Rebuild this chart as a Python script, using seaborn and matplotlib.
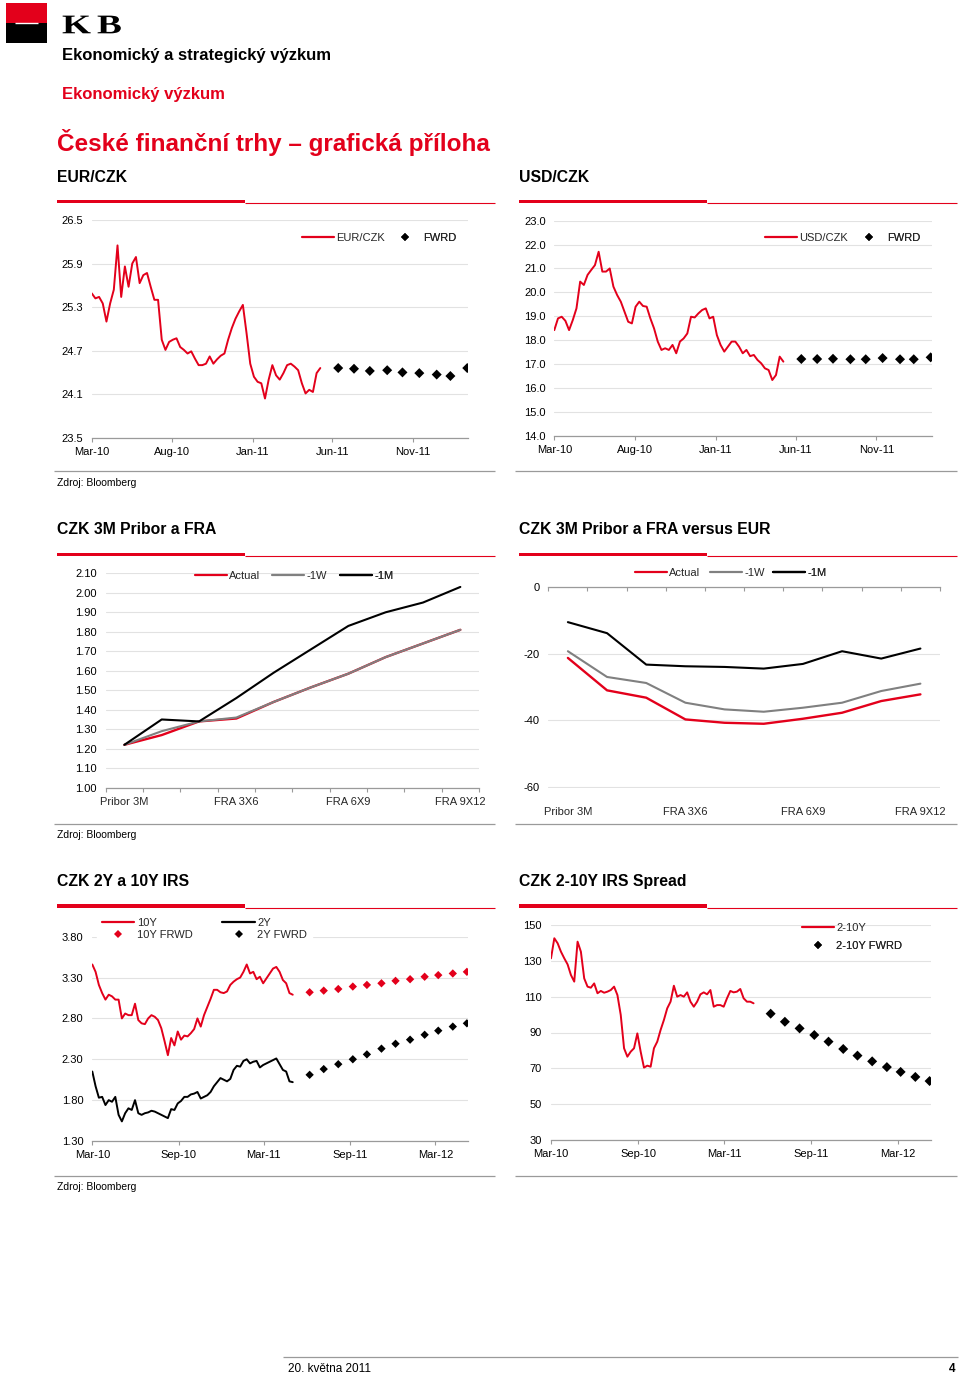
import numpy as np
import pandas as pd
import matplotlib
matplotlib.use('Agg')
import matplotlib.pyplot as plt
import matplotlib.dates as mdates
from matplotlib.lines import Line2D
from matplotlib.patches import Rectangle, PathPatch
from matplotlib.textpath import TextPath
from matplotlib.font_manager import FontProperties
from matplotlib.transforms import Affine2D
import seaborn as sns

# ---------------- data ----------------
fx_start = '2010-03-01'
eur_czk = [25.49, 25.42, 25.44, 25.35, 25.10, 25.35, 25.54, 26.15, 25.44, 25.86,
           25.58, 25.90, 25.99, 25.63, 25.74, 25.77, 25.58, 25.40, 25.40, 24.85,
           24.71, 24.82, 24.85, 24.87, 24.75, 24.71, 24.66, 24.69, 24.59, 24.50,
           24.50, 24.52, 24.62, 24.52, 24.58, 24.63, 24.66, 24.85, 25.01, 25.14,
           25.24, 25.33, 24.94, 24.52, 24.34, 24.27, 24.25, 24.04, 24.30, 24.50,
           24.36, 24.30, 24.39, 24.50, 24.52, 24.48, 24.43, 24.25, 24.11, 24.16,
           24.13, 24.39, 24.46]
usd_czk = [18.42, 18.91, 18.98, 18.81, 18.42, 18.84, 19.33, 20.45, 20.31, 20.73,
           20.94, 21.14, 21.70, 20.87, 20.87, 21.00, 20.24, 19.89, 19.61, 19.19,
           18.77, 18.70, 19.40, 19.61, 19.43, 19.40, 18.91, 18.49, 17.94, 17.59,
           17.66, 17.59, 17.80, 17.45, 17.94, 18.07, 18.28, 18.98, 18.95, 19.12,
           19.26, 19.33, 18.91, 18.98, 18.21, 17.80, 17.52, 17.73, 17.94, 17.94,
           17.73, 17.45, 17.59, 17.33, 17.38, 17.17, 17.03, 16.82, 16.75, 16.33,
           16.54, 17.31, 17.10]
fx_fwd_dates = ['2011-06-12', '2011-07-12', '2011-08-11', '2011-09-13', '2011-10-12',
                '2011-11-13', '2011-12-16', '2012-01-11', '2012-02-12']
eur_fwd = [24.46, 24.45, 24.42, 24.43, 24.40, 24.39, 24.37, 24.35, 24.46]
usd_fwd = [17.21, 17.21, 17.22, 17.20, 17.20, 17.25, 17.20, 17.20, 17.28]
fx_xticks = ['2010-03-01', '2010-08-01', '2011-01-01', '2011-06-01', '2011-11-01']

fra_labels = ['Pribor 3M', 'FRA 1X4', 'FRA 2X5', 'FRA 3X6', 'FRA 4X7',
              'FRA 5X8', 'FRA 6X9', 'FRA 7X10', 'FRA 8X11', 'FRA 9X12']
fra_actual = [1.22, 1.27, 1.34, 1.355, 1.44, 1.515, 1.585, 1.67, 1.74, 1.81]
fra_1w = [1.22, 1.29, 1.34, 1.36, 1.44, 1.515, 1.585, 1.67, 1.74, 1.81]
fra_1m = [1.22, 1.35, 1.34, 1.46, 1.59, 1.71, 1.83, 1.90, 1.95, 2.03]

vs_eur_actual = [-21.3, -31.0, -33.2, -39.7, -40.7, -41.0, -39.5, -37.7, -34.2, -32.2]
vs_eur_1w = [-19.3, -27.0, -28.8, -34.7, -36.7, -37.4, -36.2, -34.7, -31.2, -29.0]
vs_eur_1m = [-10.6, -13.9, -23.3, -23.8, -24.0, -24.5, -23.1, -19.3, -21.5, -18.5]

irs_start = '2010-03-01'
irs_10y = [3.46, 3.37, 3.21, 3.11, 3.03, 3.09, 3.07, 3.03, 3.03, 2.80,
           2.86, 2.84, 2.84, 2.98, 2.78, 2.74, 2.73, 2.80, 2.84, 2.82,
           2.78, 2.68, 2.52, 2.35, 2.56, 2.47, 2.64, 2.54, 2.59, 2.58,
           2.62, 2.67, 2.80, 2.70, 2.84, 2.94, 3.04, 3.15, 3.15, 3.12,
           3.11, 3.13, 3.21, 3.25, 3.28, 3.30, 3.37, 3.46, 3.35, 3.37,
           3.28, 3.31, 3.23, 3.29, 3.35, 3.41, 3.43, 3.37, 3.27, 3.23,
           3.11, 3.09]
irs_2y = [2.15, 1.97, 1.83, 1.84, 1.74, 1.80, 1.78, 1.84, 1.62, 1.54,
          1.64, 1.70, 1.68, 1.80, 1.64, 1.62, 1.64, 1.65, 1.67, 1.66,
          1.64, 1.62, 1.60, 1.58, 1.69, 1.68, 1.76, 1.79, 1.84, 1.84,
          1.87, 1.88, 1.90, 1.82, 1.84, 1.86, 1.90, 1.97, 2.02, 2.07,
          2.05, 2.03, 2.06, 2.17, 2.22, 2.21, 2.28, 2.30, 2.25, 2.27,
          2.28, 2.20, 2.23, 2.25, 2.27, 2.29, 2.31, 2.24, 2.17, 2.15,
          2.03, 2.02]
irs_spread = [131.4, 142.6, 139.8, 135.1, 131.4, 128.0, 122.1, 118.4, 140.7, 135.1,
              120.2, 115.6, 115.0, 117.4, 111.9, 113.2, 112.2, 112.8, 113.7, 115.6,
              110.9, 99.8, 81.2, 76.5, 79.3, 81.2, 89.5, 79.3, 70.4, 71.5,
              70.9, 81.2, 84.9, 91.4, 97.0, 103.5, 107.2, 116.1, 110.0, 110.9,
              110.0, 112.4, 107.2, 104.4, 107.2, 111.3, 112.4, 111.3, 113.7, 104.4,
              105.3, 105.3, 104.4, 109.1, 113.2, 112.4, 112.8, 114.3, 109.1, 107.2,
              107.2, 106.3]
irs_fwd_dates = ['2011-06-07', '2011-07-07', '2011-08-07', '2011-09-07', '2011-10-07',
                 '2011-11-07', '2011-12-07', '2012-01-07', '2012-02-07', '2012-03-07',
                 '2012-04-07', '2012-05-07']
irs_10y_fwd = [3.12, 3.14, 3.16, 3.19, 3.21, 3.23, 3.26, 3.28, 3.31, 3.33, 3.35, 3.37]
irs_2y_fwd = [2.11, 2.18, 2.24, 2.30, 2.36, 2.43, 2.49, 2.54, 2.60, 2.65, 2.70, 2.74]
irs_spread_fwd = [100.5, 96.0, 92.3, 88.6, 84.9, 80.8, 77.1, 73.9, 70.7, 68.0, 65.2, 62.9]
irs_xticks = ['2010-03-01', '2010-09-01', '2011-03-01', '2011-09-01', '2012-03-01']

# ---------------- style ----------------
W, H = 960, 1375
RED = '#e3001b'
GREY_LINE = '#808080'
GRID = '#e2e2e2'
AXC = '#9a9a9a'

sns.set_theme(style='white')
plt.rcParams['font.family'] = ['Liberation Sans', 'DejaVu Sans']

fig = plt.figure(figsize=(W / 100, H / 100), dpi=100)
fig.patch.set_facecolor('white')


def fxp(x):
    return x / W


def fyp(y):
    return 1 - y / H


def add_ax(x0, y0, x1, y1):
    return fig.add_axes([fxp(x0), fyp(y1), (x1 - x0) / W, (y1 - y0) / H])


def ftext(x, y, s, **kw):
    kw.setdefault('va', 'baseline')
    fig.text(fxp(x), fyp(y), s, **kw)


def hline(x0, x1, y, color, lw):
    fig.add_artist(Line2D([fxp(x0), fxp(x1)], [fyp(y), fyp(y)], transform=fig.transFigure,
                          color=color, lw=lw, solid_capstyle='butt'))


def rect(x0, y0, x1, y1, color):
    fig.add_artist(Rectangle((fxp(x0), fyp(y1)), (x1 - x0) / W, (y1 - y0) / H,
                             transform=fig.transFigure, color=color, lw=0))


def logo_letter(ch, x, y, size, stretch):
    tp = TextPath((0, 0), ch, size=size,
                  prop=FontProperties(family='Liberation Serif', weight='bold'))
    tr = Affine2D().scale(stretch / W, 1 / H).translate(fxp(x), fyp(y)) + fig.transFigure
    fig.add_artist(PathPatch(tp, transform=tr, color='black', lw=0))


def style_y(ax, ticks, fmt, pad):
    ax.set_ylim(ticks[0], ticks[-1])
    ax.set_yticks(ticks)
    ax.set_yticklabels([fmt.format(v) for v in ticks])
    ax.grid(True, axis='y', color=GRID, lw=0.8)
    ax.grid(False, axis='x')
    ax.set_axisbelow(True)
    ax.tick_params(axis='y', left=False, length=0, pad=pad, labelsize=8, labelcolor='black')
    for s in ('top', 'right', 'left'):
        ax.spines[s].set_visible(False)
    ax.spines['bottom'].set_color(AXC)
    ax.spines['bottom'].set_linewidth(0.9)
    ax.set_xlabel('')
    ax.set_ylabel('')
    ax.set_facecolor('white')


def style_time(ax, xlim, xticks):
    ax.set_xlim(pd.Timestamp(xlim[0]), pd.Timestamp(xlim[1]))
    ax.set_xticks(pd.to_datetime(xticks))
    ax.xaxis.set_major_formatter(mdates.DateFormatter('%b-%y'))
    ax.minorticks_off()
    ax.tick_params(axis='x', bottom=True, length=3, width=0.8, color=AXC, pad=3.7,
                   labelsize=8, labelcolor='black', direction='out')


def entry(ax, handle, label, x, y, hl=2.9):
    lg = ax.legend([handle], [label], loc='center left', bbox_to_anchor=(fxp(x), fyp(y)),
                   bbox_transform=fig.transFigure, frameon=False, fontsize=8,
                   handlelength=hl, handletextpad=0.2, borderpad=0, borderaxespad=0)
    ax.add_artist(lg)


red_line = Line2D([], [], color=RED, lw=1.6)
grey_line = Line2D([], [], color=GREY_LINE, lw=1.6)
black_line = Line2D([], [], color='black', lw=1.6)
black_dia = Line2D([], [], ls='none', marker='D', color='black', markersize=4.2, markeredgewidth=0)
red_dia = Line2D([], [], ls='none', marker='D', color=RED, markersize=3.6, markeredgewidth=0)

# ---------------- page furniture ----------------
rect(6, 3, 47, 23, RED)
rect(6, 23, 47, 43, 'black')
hline(15, 38, 23.3, 'white', 1.0)
logo_letter('K', 62, 33.3, 27, 1.38)
logo_letter('B', 97, 33.3, 27, 1.38)
ftext(62, 60, 'Ekonomický a strategický výzkum', fontsize=12, fontweight='bold', color='black')
ftext(62, 99, 'Ekonomický výzkum', fontsize=12, fontweight='bold', color=RED)
ftext(57, 151, 'České finanční trhy – grafická příloha', fontsize=17.5, fontweight='bold', color=RED)

headers = [(57, 182.3, 'EUR/CZK'), (519, 182.3, 'USD/CZK'),
           (57, 534, 'CZK 3M Pribor a FRA'), (519, 534, 'CZK 3M Pribor a FRA versus EUR'),
           (57, 886, 'CZK 2Y a 10Y IRS'), (519, 886, 'CZK 2-10Y IRS Spread')]
for x, y, s in headers:
    ftext(x, y, s, fontsize=11.3, fontweight='bold', color='black')

for ytop in (200, 553, 904.5):
    rect(57, ytop, 245, ytop + 3.4, RED)
    hline(245, 495, ytop + 3.0, RED, 0.8)
    rect(519, ytop, 707, ytop + 3.4, RED)
    hline(707, 957, ytop + 3.0, RED, 0.8)

for yl, ys in ((471, 485.7), (824, 838), (1176, 1190)):
    hline(54, 495, yl, AXC, 0.9)
    hline(515, 957, yl, AXC, 0.9)
    ftext(57, ys, 'Zdroj: Bloomberg', fontsize=7.5, color='black')

hline(283, 958, 1357, AXC, 0.9)
ftext(288, 1372, '20. května 2011', fontsize=8.5, color='black')
ftext(955, 1372, '4', fontsize=8.5, fontweight='bold', color='black', ha='right')

# ---------------- chart 1: EUR/CZK ----------------
ax1 = add_ax(91.7, 220, 468.3, 437.7)
sns.lineplot(x=pd.date_range(fx_start, periods=len(eur_czk), freq='7D'), y=eur_czk,
             ax=ax1, color=RED, lw=1.4)
sns.scatterplot(x=pd.to_datetime(fx_fwd_dates), y=eur_fwd, ax=ax1, marker='D',
                color='black', s=26, edgecolor='none')
style_y(ax1, np.round(np.arange(23.5, 26.51, 0.6), 1), '{:.1f}', 6)
style_time(ax1, ('2010-03-01', '2012-02-14'), fx_xticks)
entry(ax1, red_line, 'EUR/CZK', 302, 237.7)
entry(ax1, black_dia, 'FWRD', 389, 237.7)

# ---------------- chart 2: USD/CZK ----------------
ax2 = add_ax(554.3, 220.7, 931.7, 435.7)
sns.lineplot(x=pd.date_range(fx_start, periods=len(usd_czk), freq='7D'), y=usd_czk,
             ax=ax2, color=RED, lw=1.4)
sns.scatterplot(x=pd.to_datetime(fx_fwd_dates), y=usd_fwd, ax=ax2, marker='D',
                color='black', s=26, edgecolor='none')
style_y(ax2, np.arange(14, 23.1, 1.0), '{:.1f}', 6)
style_time(ax2, ('2010-03-01', '2012-02-14'), fx_xticks)
entry(ax2, red_line, 'USD/CZK', 765, 237.7)
entry(ax2, black_dia, 'FWRD', 852.5, 237.7)

# ---------------- chart 3: Pribor & FRA ----------------
pos = np.arange(len(fra_labels))
ax3 = add_ax(105.7, 573.3, 479, 787.7)
sns.lineplot(x=pos, y=fra_actual, ax=ax3, color=RED, lw=1.7)
sns.lineplot(x=pos, y=fra_1w, ax=ax3, color=GREY_LINE, lw=1.5)
sns.lineplot(x=pos, y=fra_1m, ax=ax3, color='black', lw=1.5)
style_y(ax3, np.round(np.arange(1.0, 2.101, 0.1), 2), '{:.2f}', 6.5)
ax3.set_xlim(-0.5, len(fra_labels) - 0.5)
ax3.set_xticks(pos[::3])
ax3.set_xticklabels(fra_labels[::3])
ax3.set_xticks(np.arange(-0.5, len(fra_labels)), minor=True)
ax3.tick_params(axis='x', which='major', bottom=True, length=0, pad=6.7, labelsize=8)
ax3.tick_params(axis='x', which='minor', bottom=True, length=3, width=0.8, color=AXC,
                direction='out')
entry(ax3, red_line, 'Actual', 195, 575.7)
entry(ax3, grey_line, '-1W', 271.7, 575.7)
entry(ax3, black_line, '-1M', 340, 575.7)

# ---------------- chart 4: versus EUR ----------------
ax4 = add_ax(548.3, 586.7, 940, 788.3)
sns.lineplot(x=pos, y=vs_eur_actual, ax=ax4, color=RED, lw=1.7)
sns.lineplot(x=pos, y=vs_eur_1w, ax=ax4, color=GREY_LINE, lw=1.5)
sns.lineplot(x=pos, y=vs_eur_1m, ax=ax4, color='black', lw=1.5)
style_y(ax4, np.arange(-60, 1, 20), '{:.0f}', 6)
ax4.set_ylim(-60.3, 0)
ax4.spines['bottom'].set_visible(False)
ax4.spines['top'].set_visible(True)
ax4.spines['top'].set_color(AXC)
ax4.spines['top'].set_linewidth(0.9)
ax4.set_xlim(-0.5, len(fra_labels) - 0.5)
ax4.set_xticks(pos[::3])
ax4.set_xticklabels(fra_labels[::3])
ax4.set_xticks(np.arange(-0.5, len(fra_labels)), minor=True)
ax4.tick_params(axis='x', which='major', bottom=False, top=False, labelbottom=True,
                pad=7.2, labelsize=8)
ax4.tick_params(axis='x', which='minor', bottom=False, top=True, length=3, width=0.8,
                color=AXC, direction='in')
entry(ax4, red_line, 'Actual', 635, 573.3)
entry(ax4, grey_line, '-1W', 710, 573.3)
entry(ax4, black_line, '-1M', 773, 573.3)

# ---------------- chart 5: 2Y & 10Y IRS ----------------
ax5 = add_ax(92.3, 936.7, 468.3, 1141)
irs_dates = pd.date_range(irs_start, periods=len(irs_10y), freq='7D')
sns.lineplot(x=irs_dates, y=irs_10y, ax=ax5, color=RED, lw=1.4)
sns.lineplot(x=irs_dates, y=irs_2y, ax=ax5, color='black', lw=1.4)
sns.scatterplot(x=pd.to_datetime(irs_fwd_dates), y=irs_10y_fwd, ax=ax5, marker='D',
                color=RED, s=18, edgecolor='none')
sns.scatterplot(x=pd.to_datetime(irs_fwd_dates), y=irs_2y_fwd, ax=ax5, marker='D',
                color='black', s=18, edgecolor='none')
style_y(ax5, np.round(np.arange(1.3, 3.81, 0.5), 2), '{:.2f}', 6.5)
style_time(ax5, ('2010-03-01', '2012-05-10'), irs_xticks)
lg5 = ax5.legend([red_line, red_dia, black_line, black_dia],
                 ['10Y', '10Y FRWD', '2Y', '2Y FWRD'], ncol=2, loc='upper left',
                 bbox_to_anchor=(fxp(97.3), fyp(913.5)), bbox_transform=fig.transFigure,
                 frameon=True, facecolor='white', edgecolor='white', framealpha=1,
                 fancybox=False, fontsize=8, handlelength=2.9, handletextpad=0.25,
                 columnspacing=2.7, labelspacing=0.2, borderpad=0.4, borderaxespad=0)

# ---------------- chart 6: 2-10Y spread ----------------
ax6 = add_ax(551, 925, 931, 1140)
sns.lineplot(x=pd.date_range(irs_start, periods=len(irs_spread), freq='7D'), y=irs_spread,
             ax=ax6, color=RED, lw=1.4)
sns.scatterplot(x=pd.to_datetime(irs_fwd_dates), y=irs_spread_fwd, ax=ax6, marker='D',
                color='black', s=26, edgecolor='none')
style_y(ax6, np.arange(30, 151, 20), '{:.0f}', 6.5)
style_time(ax6, ('2010-03-01', '2012-05-10'), irs_xticks)
entry(ax6, red_line, '2-10Y', 801.7, 928.3)
entry(ax6, black_dia, '2-10Y FWRD', 801.7, 945.7)

fig.savefig('out.png', dpi=100, facecolor='white')
